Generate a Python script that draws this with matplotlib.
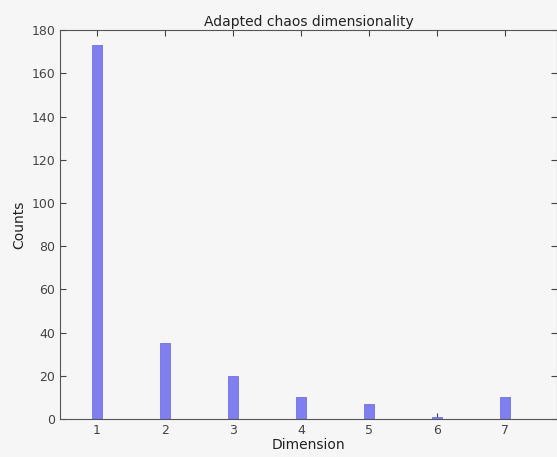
import matplotlib
matplotlib.use("Agg")
import matplotlib.pyplot as plt

# dimension counts
dimensions = [1, 2, 3, 4, 5, 6, 7]
counts = [173, 35, 20, 10, 7, 1, 10]

fig = plt.figure(figsize=(5.57, 4.57), dpi=100, facecolor='#f6f6f6')
ax = fig.add_axes([0.108, 0.083, 0.892, 0.851])
ax.set_facecolor('#f6f6f6')
ax.set_axisbelow(True)

ax.bar(dimensions, counts, width=0.15, color='#7f7fef', edgecolor='#7070e4', linewidth=0.6, zorder=3)

ax.set_xlim(0.46, 7.76)
ax.set_ylim(0, 180)
ax.set_yticks(range(0, 181, 20))
ax.set_xticks(dimensions)
ax.tick_params(direction='in', top=True, right=True, labelsize=9, colors='#444444', length=4)
for s in ax.spines.values():
    s.set_color('#555555')
    s.set_zorder(4)

ax.set_title('Adapted chaos dimensionality', fontsize=10, color='#222222', pad=3)
ax.set_xlabel('Dimension', fontsize=10, color='#222222', labelpad=1)
ax.set_ylabel('Counts', fontsize=10, color='#222222', labelpad=4)

fig.savefig('out.png', dpi=100, facecolor=fig.get_facecolor())
